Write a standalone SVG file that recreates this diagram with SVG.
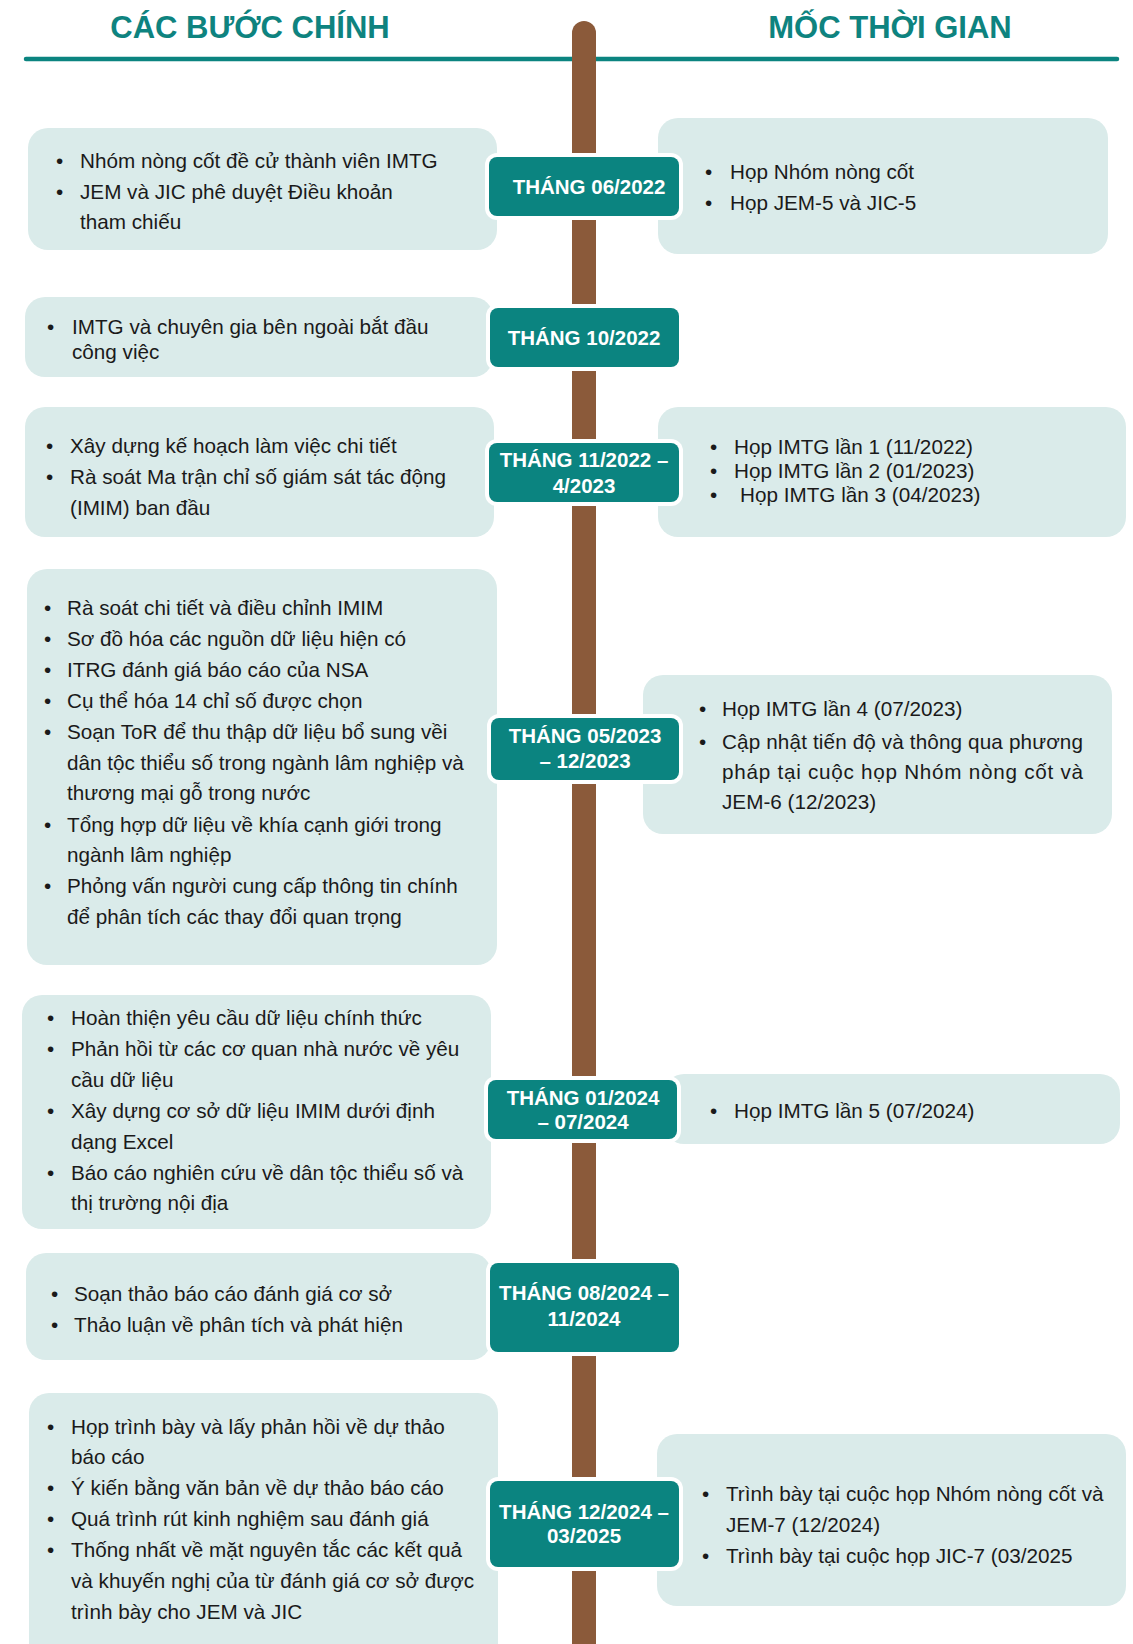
<svg xmlns="http://www.w3.org/2000/svg" width="1133" height="1644" viewBox="0 0 1133 1644">
<style>
.hdr{font-family:"Liberation Sans",Arial,sans-serif;font-weight:bold;font-size:31px;fill:#0E837F;text-anchor:middle}
.box{fill:#DAEBEA}
.ring{fill:#FFFFFF}
.date{fill:#0B8480}
.dt{font-family:"Liberation Sans",Arial,sans-serif;font-weight:bold;font-size:20.5px;fill:#FFFFFF;text-anchor:middle}
.t{font-family:"Liberation Sans",Arial,sans-serif;font-size:20.7px;fill:#1A1A1A}
</style>
<rect width="1133" height="1644" fill="#FFFFFF"/>
<g id="headers">
<text class="hdr" x="250" y="38">CÁC BƯỚC CHÍNH</text>
<text class="hdr" x="890" y="38">MỐC THỜI GIAN</text>
<line x1="26" y1="59" x2="1117" y2="59" stroke="#0B8480" stroke-width="4.5" stroke-linecap="round"/>
</g>
<g id="connectors">
<path d="M572,33 A12,12 0 0 1 596,33 L596,1644 L572,1644 Z" fill="#8B5A3A"/>
</g>
<g id="step1">
<rect class="box" x="28" y="128" width="469" height="122" rx="20"/>
<text class="t" x="56" y="168">•</text><text class="t" x="80" y="168">Nhóm nòng cốt đề cử thành viên IMTG</text>
<text class="t" x="56" y="199">•</text><text class="t" x="80" y="199">JEM và JIC phê duyệt Điều khoản</text>
<text class="t" x="80" y="229">tham chiếu</text>
</g>
<g id="milestone1">
<rect class="box" x="658" y="118" width="450" height="136" rx="20"/>
<text class="t" x="705" y="179">•</text><text class="t" x="730" y="179">Họp Nhóm nòng cốt</text>
<text class="t" x="705" y="210">•</text><text class="t" x="730" y="210">Họp JEM-5 và JIC-5</text>
</g>
<g id="step2">
<rect class="box" x="25" y="297" width="468" height="80" rx="20"/>
<text class="t" x="47" y="334">•</text><text class="t" x="72" y="334">IMTG và chuyên gia bên ngoài bắt đầu</text>
<text class="t" x="72" y="359">công việc</text>
</g>
<g id="step3">
<rect class="box" x="25" y="407" width="469" height="130" rx="20"/>
<text class="t" x="46" y="453">•</text><text class="t" x="70" y="453">Xây dựng kế hoạch làm việc chi tiết</text>
<text class="t" x="46" y="484">•</text><text class="t" x="70" y="484">Rà soát Ma trận chỉ số giám sát tác động</text>
<text class="t" x="70" y="515">(IMIM) ban đầu</text>
</g>
<g id="milestone3">
<rect class="box" x="658" y="407" width="468" height="130" rx="20"/>
<text class="t" x="710" y="454">•</text><text class="t" x="734" y="454">Họp IMTG lần 1 (11/2022)</text>
<text class="t" x="710" y="478">•</text><text class="t" x="734" y="478">Họp IMTG lần 2 (01/2023)</text>
<text class="t" x="710" y="502">•</text><text class="t" x="740" y="502">Họp IMTG lần 3 (04/2023)</text>
</g>
<g id="step4">
<rect class="box" x="27" y="569" width="470" height="396" rx="20"/>
<text class="t" x="44" y="615">•</text><text class="t" x="67" y="615">Rà soát chi tiết và điều chỉnh IMIM</text>
<text class="t" x="44" y="646">•</text><text class="t" x="67" y="646">Sơ đồ hóa các nguồn dữ liệu hiện có</text>
<text class="t" x="44" y="677">•</text><text class="t" x="67" y="677">ITRG đánh giá báo cáo của NSA</text>
<text class="t" x="44" y="708">•</text><text class="t" x="67" y="708">Cụ thể hóa 14 chỉ số được chọn</text>
<text class="t" x="44" y="739">•</text><text class="t" x="67" y="739">Soạn ToR để thu thập dữ liệu bổ sung vềi</text>
<text class="t" x="67" y="770">dân tộc thiểu số trong ngành lâm nghiệp và</text>
<text class="t" x="67" y="800">thương mại gỗ trong nước</text>
<text class="t" x="44" y="832">•</text><text class="t" x="67" y="832">Tổng hợp dữ liệu về khía cạnh giới trong</text>
<text class="t" x="67" y="862">ngành lâm nghiệp</text>
<text class="t" x="44" y="893">•</text><text class="t" x="67" y="893">Phỏng vấn người cung cấp thông tin chính</text>
<text class="t" x="67" y="924">để phân tích các thay đổi quan trọng</text>
</g>
<g id="milestone4">
<rect class="box" x="643" y="675" width="469" height="159" rx="20"/>
<text class="t" x="699" y="716">•</text><text class="t" x="722" y="716">Họp IMTG lần 4 (07/2023)</text>
<text class="t" x="699" y="749">•</text><text class="t" x="722" y="749" textLength="361" lengthAdjust="spacing">Cập nhật tiến độ và thông qua phương</text>
<text class="t" x="722" y="779" textLength="361" lengthAdjust="spacing">pháp tại cuộc họp Nhóm nòng cốt và</text>
<text class="t" x="722" y="809">JEM-6 (12/2023)</text>
</g>
<g id="step5">
<rect class="box" x="22" y="995" width="469" height="234" rx="20"/>
<text class="t" x="47" y="1025">•</text><text class="t" x="71" y="1025">Hoàn thiện yêu cầu dữ liệu chính thức</text>
<text class="t" x="47" y="1056">•</text><text class="t" x="71" y="1056">Phản hồi từ các cơ quan nhà nước về yêu</text>
<text class="t" x="71" y="1087">cầu dữ liệu</text>
<text class="t" x="47" y="1118">•</text><text class="t" x="71" y="1118">Xây dựng cơ sở dữ liệu IMIM dưới định</text>
<text class="t" x="71" y="1149">dạng Excel</text>
<text class="t" x="47" y="1180">•</text><text class="t" x="71" y="1180">Báo cáo nghiên cứu về dân tộc thiểu số và</text>
<text class="t" x="71" y="1210">thị trường nội địa</text>
</g>
<g id="milestone5">
<rect class="box" x="664" y="1074" width="456" height="70" rx="20"/>
<text class="t" x="710" y="1118">•</text><text class="t" x="734" y="1118">Họp IMTG lần 5 (07/2024)</text>
</g>
<g id="step6">
<rect class="box" x="26" y="1253" width="465" height="107" rx="20"/>
<text class="t" x="51" y="1301">•</text><text class="t" x="74" y="1301">Soạn thảo báo cáo đánh giá cơ sở</text>
<text class="t" x="51" y="1332">•</text><text class="t" x="74" y="1332">Thảo luận về phân tích và phát hiện</text>
</g>
<g id="step7">
<rect class="box" x="29" y="1393" width="469" height="280" rx="20"/>
<text class="t" x="47" y="1434">•</text><text class="t" x="71" y="1434">Họp trình bày và lấy phản hồi về dự thảo</text>
<text class="t" x="71" y="1464">báo cáo</text>
<text class="t" x="47" y="1495">•</text><text class="t" x="71" y="1495">Ý kiến bằng văn bản về dự thảo báo cáo</text>
<text class="t" x="47" y="1526">•</text><text class="t" x="71" y="1526">Quá trình rút kinh nghiệm sau đánh giá</text>
<text class="t" x="47" y="1557">•</text><text class="t" x="71" y="1557">Thống nhất về mặt nguyên tắc các kết quả</text>
<text class="t" x="71" y="1588">và khuyến nghị của từ đánh giá cơ sở được</text>
<text class="t" x="71" y="1619">trình bày cho JEM và JIC</text>
</g>
<g id="milestone7">
<rect class="box" x="657" y="1434" width="469" height="172" rx="20"/>
<text class="t" x="702" y="1501">•</text><text class="t" x="726" y="1501">Trình bày tại cuộc họp Nhóm nòng cốt và</text>
<text class="t" x="726" y="1532">JEM-7 (12/2024)</text>
<text class="t" x="702" y="1563">•</text><text class="t" x="726" y="1563">Trình bày tại cuộc họp JIC-7 (03/2025</text>
</g>
<g id="date1">
<rect class="ring" x="485" y="153" width="198" height="67" rx="12"/>
<rect class="date" x="489" y="157" width="190" height="59" rx="8"/>
<text class="dt" x="589" y="194">THÁNG 06/2022</text>
</g>
<g id="date2">
<rect class="ring" x="486" y="304" width="197" height="67" rx="12"/>
<rect class="date" x="490" y="308" width="189" height="59" rx="8"/>
<text class="dt" x="584" y="345">THÁNG 10/2022</text>
</g>
<g id="date3">
<rect class="ring" x="485" y="439" width="198" height="67" rx="12"/>
<rect class="date" x="489" y="443" width="190" height="59" rx="8"/>
<text class="dt" x="584" y="467">THÁNG 11/2022 –</text>
<text class="dt" x="584" y="493">4/2023</text>
</g>
<g id="date4">
<rect class="ring" x="487" y="714" width="196" height="70" rx="12"/>
<rect class="date" x="491" y="718" width="188" height="62" rx="8"/>
<text class="dt" x="585" y="743">THÁNG 05/2023</text>
<text class="dt" x="585" y="768">– 12/2023</text>
</g>
<g id="date5">
<rect class="ring" x="484" y="1076" width="197" height="67" rx="12"/>
<rect class="date" x="488" y="1080" width="189" height="59" rx="8"/>
<text class="dt" x="583" y="1105">THÁNG 01/2024</text>
<text class="dt" x="583" y="1129">– 07/2024</text>
</g>
<g id="date6">
<rect class="ring" x="486" y="1259" width="197" height="97" rx="12"/>
<rect class="date" x="490" y="1263" width="189" height="89" rx="8"/>
<text class="dt" x="584" y="1300">THÁNG 08/2024 –</text>
<text class="dt" x="584" y="1326">11/2024</text>
</g>
<g id="date7">
<rect class="ring" x="486" y="1477" width="197" height="94" rx="12"/>
<rect class="date" x="490" y="1481" width="189" height="86" rx="8"/>
<text class="dt" x="584" y="1519">THÁNG 12/2024 –</text>
<text class="dt" x="584" y="1543">03/2025</text>
</g>
</svg>
